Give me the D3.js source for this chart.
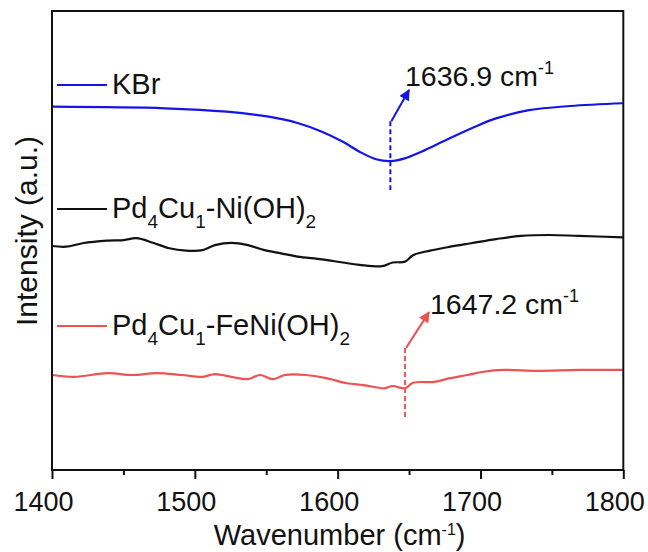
<!DOCTYPE html>
<html><head><meta charset="utf-8">
<script src="https://cdn.jsdelivr.net/npm/d3@7"></script>
<style>body{margin:0;background:#fff}svg{display:block;font-family:Arial,"Liberation Sans",sans-serif}</style>
</head><body><svg id="c" width="648" height="552"></svg>
<script>
// ---- data ----
const xTicks = [1400, 1500, 1600, 1700, 1800];
const xMinorTicks = [1450, 1550, 1650, 1750];
const kbrWn = [1400,1479,1522.5,1551.7,1571.9,1589,1603.7,1615.3,1626.9,1637,1647,1658.6,1675.9,1696.2,1710.9,1734,1762.7,1800];
const kbrI  = [79.15,78.8,78.06,76.97,75.6,73.7,71.5,69.35,67.7,67.3,67.9,69.35,71.9,74.8,76.6,78.4,79.3,79.9];
const niWn = [1400,1409.8,1421.4,1438.8,1450.4,1459.1,1470.7,1482.2,1493.8,1505.4,1514.1,1525.6,1537.2,1548.8,1560.3,1571.9,1589,1603.7,1615.3,1631,1638.5,1647.2,1652.8,1664.7,1678.9,1693.4,1710.9,1728.2,1748.4,1768.6,1800];
const niI  = [48.8,48.65,49.4,49.96,50.1,50.5,49.5,48.3,47.8,47.9,49.0,49.5,49.0,47.9,47.2,46.5,45.9,45.2,44.7,44.4,45.2,45.4,46.8,47.8,48.65,49.4,50.3,51.0,51.2,51.0,50.7];
const feWn = [1400,1415.7,1438.8,1456,1473.5,1491,1505.4,1514.1,1525.6,1537.2,1545.6,1554.5,1563.1,1577.7,1592.1,1606.5,1618.2,1632.7,1638.5,1647.2,1652.8,1667.5,1678.9,1690.6,1702.1,1716.5,1739.6,1768.6,1800];
const feI  = [20.7,20.3,21.1,20.7,21.1,20.7,20.3,20.9,20.3,19.8,20.7,19.8,20.7,20.7,20.0,18.9,18.5,17.8,18.3,17.8,19.0,19.2,20.0,20.7,21.4,21.8,21.6,21.8,21.8];
const peakKBr = 1636.9, peakFe = 1647.2;

const svg = d3.select("#c");
const L = 52, R = 623.3, T = 11, B = 470;
const x = d3.scaleLinear().domain([1400, 1800]).range([L, R]);
const y = d3.scaleLinear().domain([0, 100]).range([B, T]);

const defs = svg.append("defs");
function marker(id, color){
  defs.append("marker").attr("id", id).attr("viewBox","0 0 10 10").attr("refX",9).attr("refY",5)
    .attr("markerWidth",6).attr("markerHeight",5.5).attr("markerUnits","strokeWidth").attr("orient","auto")
    .append("path").attr("d","M0,0L10,5L0,10z").attr("fill",color);
}
const cBlue = "#1414e6", cBlack = "#111", cRed = "#ee5252";
marker("ab", cBlue); marker("ar", cRed);

const line = d3.line().curve(d3.curveCatmullRom.alpha(0.5));
function drawSeries(wn, vals, color){
  svg.append("path").attr("d", line(wn.map((w,i)=>[x(w), y(vals[i])])))
    .attr("fill","none").attr("stroke",color).attr("stroke-width",2.2).attr("stroke-linejoin","round");
}
drawSeries(kbrWn, kbrI, cBlue);
drawSeries(niWn, niI, cBlack);
drawSeries(feWn, feI, cRed);

// frame
svg.append("rect").attr("x",L).attr("y",T).attr("width",R-L).attr("height",B-T)
  .attr("fill","none").attr("stroke","#111").attr("stroke-width",2);

// x axis
const ax = svg.append("g").attr("transform",`translate(0,${B})`)
  .call(d3.axisBottom(x).tickValues(xTicks).tickSize(9).tickSizeOuter(0).tickPadding(13).tickFormat(d3.format("d")));
ax.select(".domain").remove();
ax.selectAll("line").attr("stroke","#111").attr("stroke-width",2);
ax.selectAll("text").attr("font-size",27).attr("fill","#111").attr("dx",-9)
  .attr("font-family","Arial, 'Liberation Sans', sans-serif");
svg.append("g").attr("transform",`translate(0,${B})`)
  .call(d3.axisBottom(x).tickValues(xMinorTicks).tickSize(5).tickFormat(""))
  .call(g=>{g.select(".domain").remove(); g.selectAll("line").attr("stroke","#111").attr("stroke-width",2);});

// axis titles
const xt = svg.append("text").attr("x",(L+R)/2+2).attr("y",545).attr("text-anchor","middle")
  .attr("font-size",29).attr("fill","#111");
xt.append("tspan").text("Wavenumber (cm");
xt.append("tspan").text("-1").attr("font-size",16).attr("dy",-10);
xt.append("tspan").text(")").attr("dy",10);

svg.append("text").attr("transform",`translate(37,326) rotate(-90)`).attr("text-anchor","start")
  .attr("font-size",30).attr("fill","#111").text("Intensity (a.u.)");

// legends
function legend(yl, color, parts){
  svg.append("line").attr("x1",57).attr("x2",107).attr("y1",yl).attr("y2",yl).attr("stroke",color).attr("stroke-width",2.2);
  const t = svg.append("text").attr("x",112).attr("y",yl+8.5).attr("font-size",29).attr("fill","#111");
  let shift = 0;
  parts.forEach(p=>{
    const s = t.append("tspan").text(p[0]);
    if (p[1]) { s.attr("font-size",19).attr("dy", 10 - shift); shift = 10; }
    else { s.attr("dy", -shift); shift = 0; }
  });
}
legend(85, cBlue, [["KBr"]]);
legend(209, cBlack, [["Pd"],["4",1],["Cu"],["1",1],["-Ni(OH)"],["2",1]]);
legend(326, cRed, [["Pd"],["4",1],["Cu"],["1",1],["-FeNi(OH)"],["2",1]]);

// peak annotations
function annot(wn, yTop, yBot, tipWn, tipI, color, mk, label, tx, ty){
  svg.append("line").attr("x1",x(wn)).attr("x2",x(wn)).attr("y1",y(yTop)).attr("y2",y(yBot))
    .attr("stroke",color).attr("stroke-width",2).attr("stroke-dasharray","5,3");
  svg.append("line").attr("x1",x(wn)+1).attr("y1",y(yTop)).attr("x2",x(tipWn)).attr("y2",y(tipI))
    .attr("stroke",color).attr("stroke-width",2).attr("marker-end",`url(#${mk})`);
  const t = svg.append("text").attr("x",tx).attr("y",ty).attr("font-size",28.5).attr("fill","#111");
  t.append("tspan").text(label + " cm");
  t.append("tspan").text("-1").attr("font-size",18).attr("dy",-12);
}
annot(peakKBr, 76.0, 61.0, 1650, 82.8, cBlue, "ab", "1636.9", 405, 86);
annot(peakFe, 26.6, 11.3, 1664, 34.4, cRed, "ar", "1647.2", 430, 314);
</script></body></html>
